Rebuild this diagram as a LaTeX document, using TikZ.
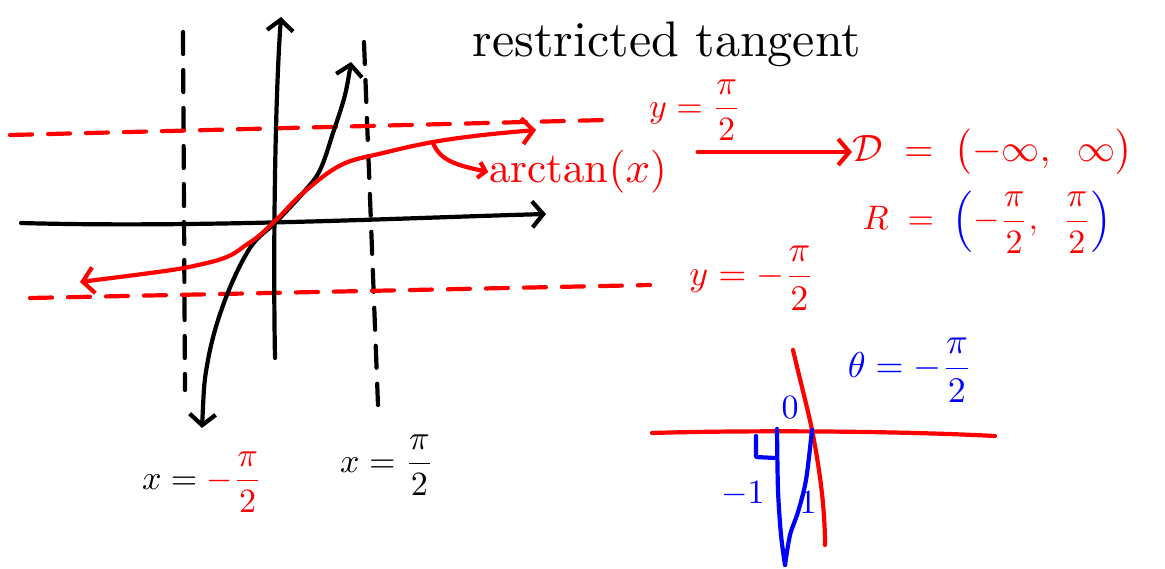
\documentclass[tikz,border=0pt]{standalone}
\usepackage{amsmath}
\usetikzlibrary{arrows.meta}
\definecolor{pred}{RGB}{255,0,0}
\definecolor{pblue}{RGB}{0,0,255}
\begin{document}
\begin{tikzpicture}[x=1pt,y=-1pt,
  >={Straight Barb[length=11pt,width=26pt]},
  pen/.style={line width=4.2pt,line cap=round,line join=round},
  dsh/.style={pen,dash pattern=on 22pt off 16pt},
  lbl/.style={inner sep=0pt,scale=#1},
  lbl/.default=4]
\fill[white] (0,0) rectangle (1165,568);
\useasboundingbox (0,0) rectangle (1165,568);
% dashed asymptotes
\draw[dsh] (183,32) -- (185,390);
\draw[dsh] (364,42) -- (378,405);
\draw[dsh,pred] (10,135) -- (605,120);
\draw[dsh,pred] (30,298) -- (650,285);
% axes
\draw[pen,->] (21,223) .. controls (200,228) and (400,218) .. (546,214);
\draw[pen,->] (275,358) .. controls (273,250) and (275,100) .. (281,17);
% tangent
\draw[pen,<->] plot[smooth,tension=0.6] coordinates {(202,428) (208,360) (225,300) (250,248) (276,222) (303,193) (320,170) (333,133) (345,95) (351,62)};
% arctan
\draw[pen,pred,<->] plot[smooth,tension=0.6] coordinates {(80,282) (207,263) (249,243) (276,220) (303,193) (341,165) (383,153) (433,142) (483,135) (536,130)};
% labels
\node[lbl=5] (title) at (667,44) {restricted tangent};
\node[lbl=3.4,text=pred] (ytop) at (695,110) {$y=\dfrac{\pi}{2}$};
\node[lbl=3.6,text=pred] (ybot) at (752,278) {$y=-\dfrac{\pi}{2}$};
\node[lbl=4.3,text=pred] (arc) at (578,172) {arctan$(x)$};
\node[lbl=3.8,text=pred,anchor=west] (dom) at (852,152) {$\mathcal{D}\;=\;\bigl(-\infty,\;\;\infty\bigr)$};
\node[lbl=3.4,anchor=west] (ran) at (862,222) {$\textcolor{pred}{R\;=}\;\;\textcolor{pblue}{\Bigl(}\textcolor{pred}{-\dfrac{\pi}{2},\;\;\dfrac{\pi}{2}}\textcolor{pblue}{\Bigr)}$};
\node[lbl=3.4] (xl) at (202,482) {$x=\textcolor{pred}{-\dfrac{\pi}{2}}$};
\node[lbl=3.4] (xr) at (387,465) {$x=\dfrac{\pi}{2}$};
% label arrows
\coordinate (pa) at (433,143);
\draw[pen,pred,-{Straight Barb[length=7pt,width=16pt]}] (pa) .. controls (440,160) and (455,165) .. (arc.west);
\coordinate (ls) at ([xshift=30pt]arc.east |- dom.west);
\draw[pen,pred,->] (ls) -- (dom.west);
% small figure
\draw[pen,pred] (652,433) .. controls (750,430) and (900,431) .. (995,436);
\draw[pen,pred] (793,350) .. controls (800,380) and (808,410) .. (812,430) .. controls (820,470) and (825,510) .. (825,545);
\draw[pen,pblue] plot[smooth] coordinates {(777,429) (778,490) (781,535) (785,565)};
\draw[pen,pblue] plot[smooth] coordinates {(785,565) (790,535) (798,512) (806,480) (812,430)};
\draw[pen,pblue] (756,436) -- (756,457) -- (775,458);
\node[lbl=3.4,text=pblue] (zero) at (790,408) {$0$};
\node[lbl=3.6,text=pblue] (theta) at (910,370) {$\theta=-\dfrac{\pi}{2}$};
\node[lbl=3.4,text=pblue] (m1) at (743,494) {$-1$};
\node[lbl=3.4,text=pblue] (one) at (808,503) {$1$};
\end{tikzpicture}
\end{document}
